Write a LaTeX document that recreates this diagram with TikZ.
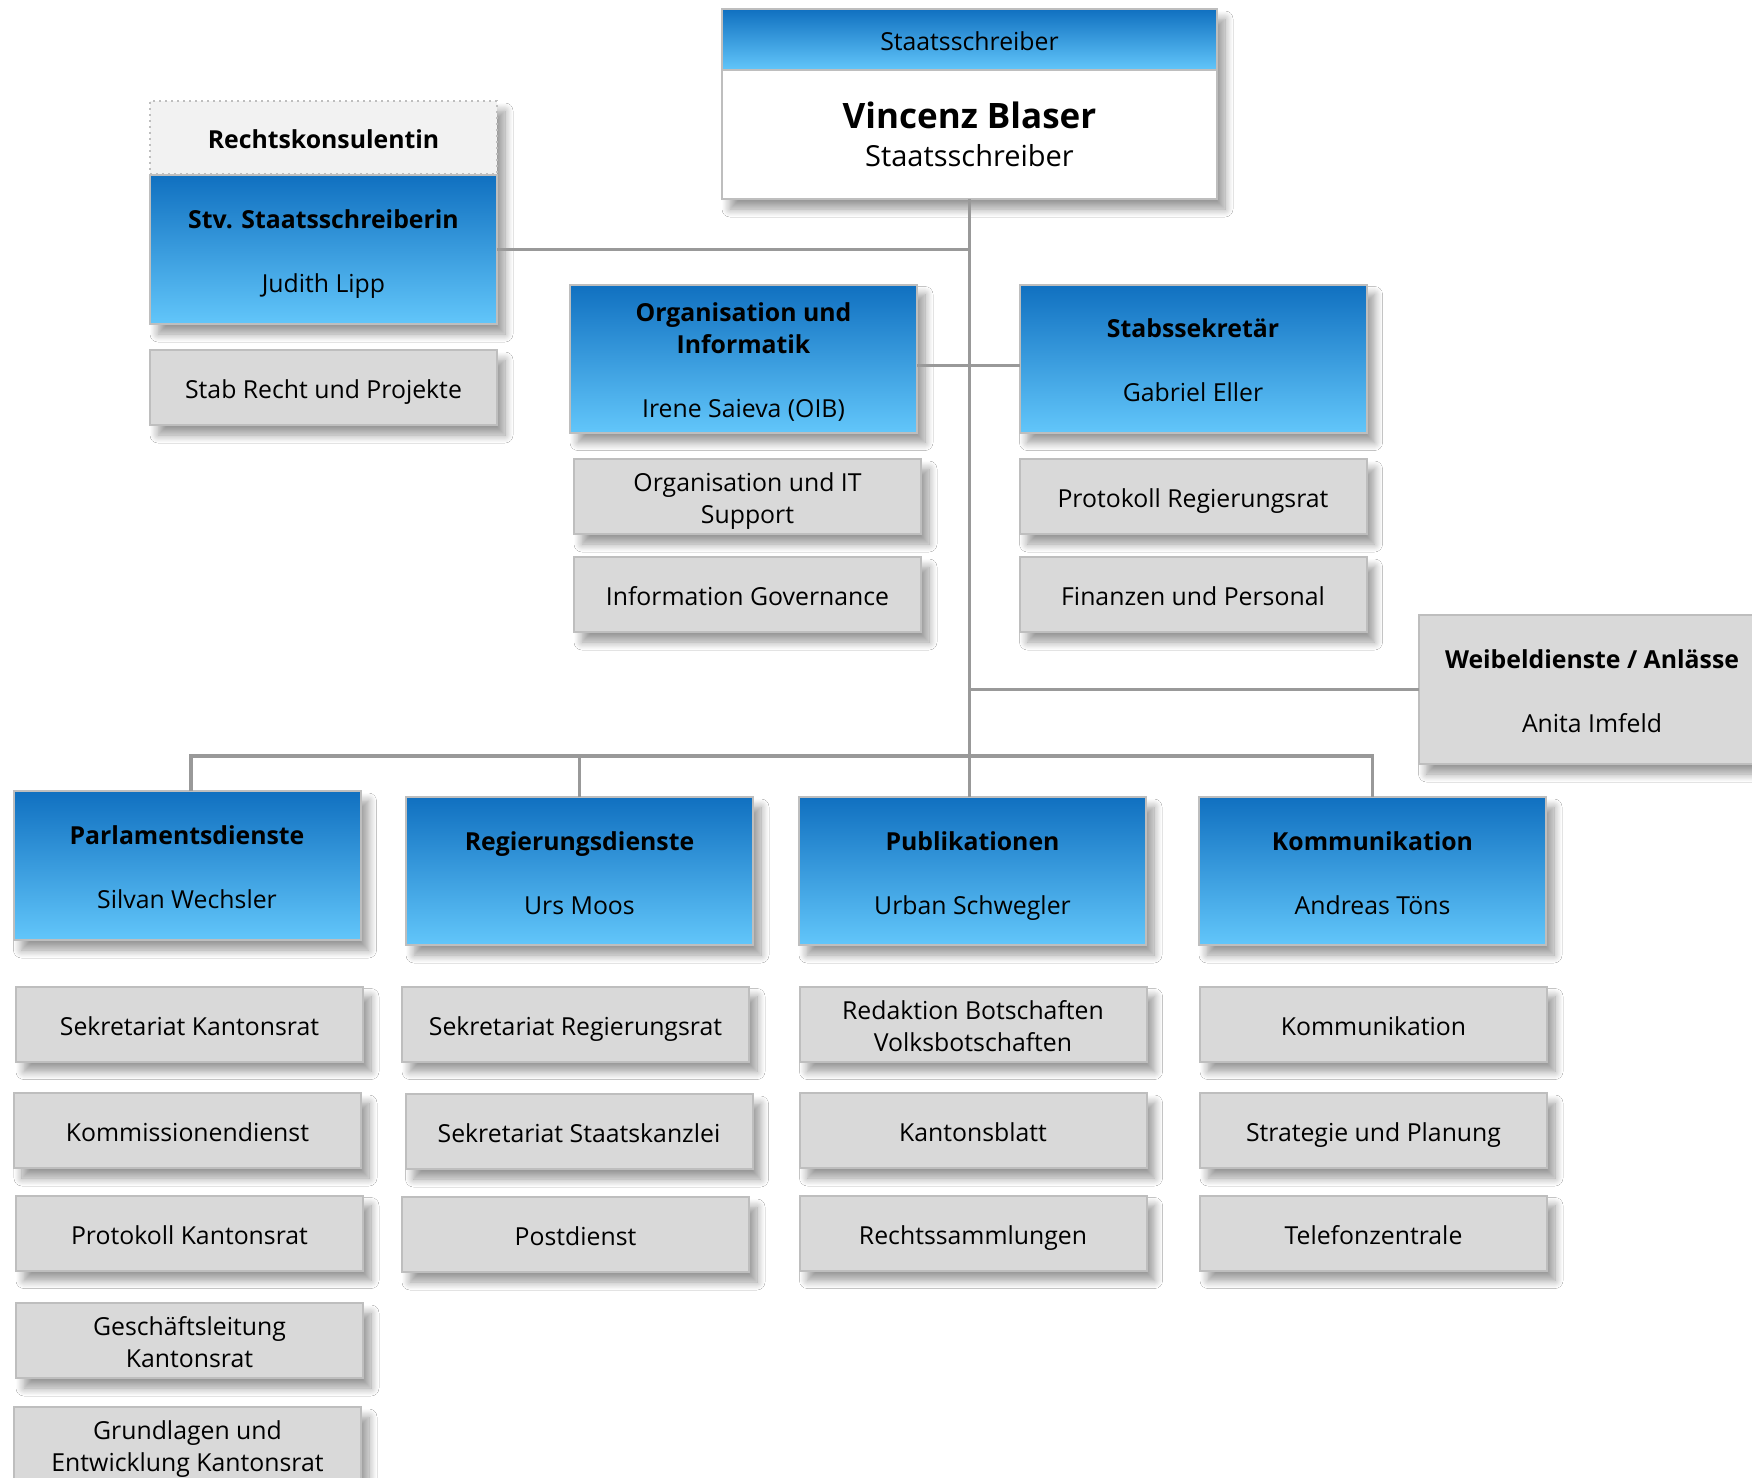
\documentclass[tikz,border=0pt]{standalone}
\usepackage{fontspec}
\setmainfont{Open Sans}
\usetikzlibrary{shadows.blur}
\definecolor{blautop}{RGB}{16,112,192}
\definecolor{blaubot}{RGB}{98,198,250}
\definecolor{kasten}{RGB}{217,217,217}
\definecolor{rand}{RGB}{190,190,190}
\definecolor{linie}{RGB}{153,153,153}
\definecolor{hell}{RGB}{242,242,242}
\tikzset{
  schatten/.style={blur shadow={shadow xshift=4pt,shadow yshift=-5pt,shadow blur radius=4pt,
      shadow blur steps=10,shadow opacity=40}},
  basis/.style={draw=rand,line width=1pt,minimum width=173.5pt,minimum height=37.5pt,
    inner sep=0pt,outer sep=0pt,align=center,font=\fontsize{12.4}{16}\selectfont},
  box/.style={basis,schatten},
  unterbox/.style={box,fill=kasten},
  blau/.style={top color=blautop,bottom color=blaubot},
  leitbox/.style={box,blau,minimum height=74pt},
  verbindung/.style={draw=linie,line width=1.6pt}
}
\newcommand{\oben}{\rule{0pt}{15.2pt}}
\newcommand{\unten}{\rule[-4pt]{0pt}{4pt}}
\newcommand{\eins}[1]{\oben#1\unten}
\newcommand{\leit}[2]{\oben\textbf{#1}\\[16pt]#2\unten}
\newcommand{\zwei}[2]{\oben#1\\#2\unten}
\begin{document}
\begin{tikzpicture}[x=0.5pt,y=-0.5pt]
\fill[white](0,0)rectangle(1752,1478);
\useasboundingbox(0,0)rectangle(1752,1478);
% gemeinsame Schatten
\path[schatten,fill=white](722,9)rectangle(1217,199);
\path[schatten,fill=white](150,101)rectangle(497,324);
% Staatsschreiber
\node[basis,blau,minimum width=247.5pt,minimum height=30.5pt](chefkopf)at(969.5,39.5){\eins{Staatsschreiber}};
\node[basis,fill=white,minimum width=247.5pt,minimum height=64.5pt](chef)at(969.5,134.5)
  {{\fontsize{17.5}{20.5}\selectfont\bfseries Vincenz Blaser}\\[3pt]{\fontsize{14.5}{20.5}\selectfont Staatsschreiber}};
% linke Seite
\node[basis,fill=hell,dotted,minimum height=36.5pt](rk)at(323.5,137.5){\eins{\textbf{Rechtskonsulentin}}};
\node[basis,blau,minimum height=74.5pt](stv)at(323.5,249.5){\leit{Stv. Staatsschreiberin}{Judith Lipp}};
\node[unterbox](srp)at(323.5,387.5){\eins{Stab Recht und Projekte}};
% Mitte
\node[leitbox](oi)at(743.5,358.5){\oben\textbf{Organisation und}\\\textbf{Informatik}\\[16pt]Irene Saieva (OIB)\unten};
\node[unterbox](oit)at(747.5,496.5){\zwei{Organisation und IT}{Support}};
\node[unterbox](ig)at(747.5,594.5){\eins{Information Governance}};
\node[leitbox](ss)at(1193,358.5){\leit{Stabssekret\"ar}{Gabriel Eller}};
\node[unterbox](prr)at(1193,496.5){\eins{Protokoll Regierungsrat}};
\node[unterbox](fp)at(1193,594.5){\eins{Finanzen und Personal}};
\node[unterbox,minimum height=74.5pt](wd)at(1592,689.5){\leit{Weibeldienste / Anl\"asse}{Anita Imfeld}};
% Dienste
\node[leitbox,minimum height=74.5pt](pd)at(187,865.5){\leit{Parlamentsdienste}{Silvan Wechsler}};
\node[leitbox](rd)at(579.5,871){\leit{Regierungsdienste}{Urs Moos}};
\node[leitbox](pub)at(972.5,871){\leit{Publikationen}{Urban Schwegler}};
\node[leitbox](kom)at(1372.5,871){\leit{Kommunikation}{Andreas T\"ons}};
\node[unterbox](p1)at(189.5,1024){\eins{Sekretariat Kantonsrat}};
\node[unterbox](p2)at(187.5,1130.5){\eins{Kommissionendienst}};
\node[unterbox](p3)at(189.5,1233){\eins{Protokoll Kantonsrat}};
\node[unterbox](p4)at(189.5,1340.5){\zwei{Gesch\"aftsleitung}{Kantonsrat}};
\node[unterbox](p5)at(187.5,1444.5){\zwei{Grundlagen und}{Entwicklung Kantonsrat}};
\node[unterbox](r1)at(575.5,1024){\eins{Sekretariat Regierungsrat}};
\node[unterbox](r2)at(579,1131.5){\eins{Sekretariat Staatskanzlei}};
\node[unterbox](r3)at(575.5,1234.5){\eins{Postdienst}};
\node[unterbox](u1)at(973,1024){\zwei{Redaktion Botschaften}{Volksbotschaften}};
\node[unterbox](u2)at(973,1130.5){\eins{Kantonsblatt}};
\node[unterbox](u3)at(973,1233){\eins{Rechtssammlungen}};
\node[unterbox](k1)at(1373.5,1024){\eins{Kommunikation}};
\node[unterbox](k2)at(1373.5,1130.5){\eins{Strategie und Planung}};
\node[unterbox](k3)at(1373.5,1233){\eins{Telefonzentrale}};
% Linien
\coordinate(bus)at(0,756);
\draw[verbindung](chef.south)--(chef.south|-pub.north);
\draw[verbindung](stv.east)--(stv.east-|chef.south);
\draw[verbindung]([yshift=-3.5pt]oi.east)--([yshift=-3.5pt]ss.west);
\draw[verbindung](wd.west)--(wd.west-|chef.south);
\draw[verbindung]([xshift=2pt]pd.north)--([xshift=2pt]pd.north|-bus)-|(kom.north);
\draw[verbindung](rd.north)--(rd.north|-bus);
\end{tikzpicture}
\end{document}
